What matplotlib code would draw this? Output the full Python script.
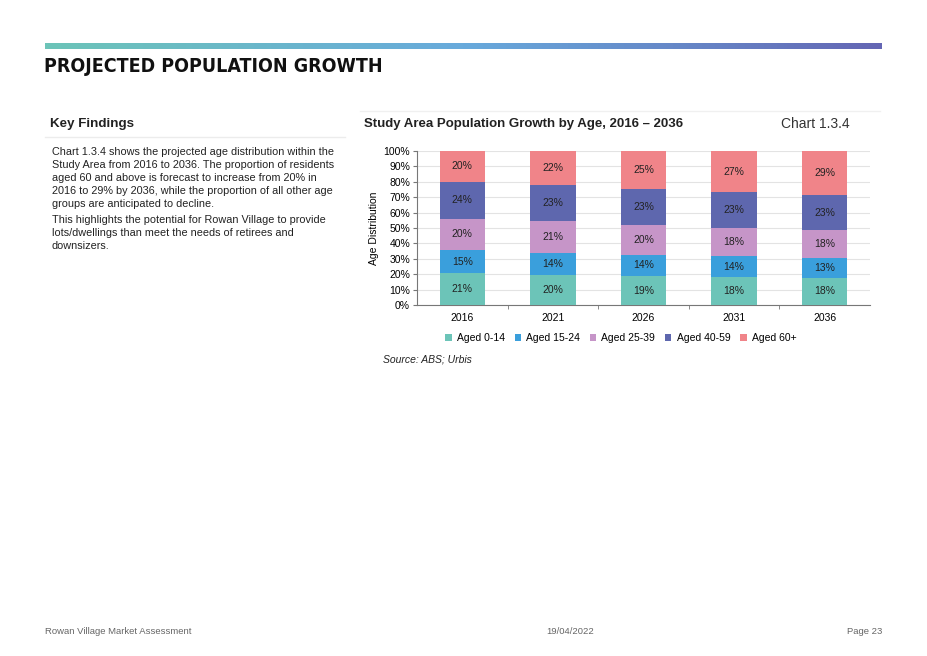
import matplotlib.pyplot as plt
import numpy as np
from matplotlib.colors import LinearSegmentedColormap

# data (percent of population)
years = ["2016", "2021", "2026", "2031", "2036"]
groups = ["Aged 0-14", "Aged 15-24", "Aged 25-39", "Aged 40-59", "Aged 60+"]
aged_0_14 = [20.6, 19.8, 18.8, 18.0, 17.6]
aged_15_24 = [15.2, 14.2, 13.8, 13.8, 13.1]
aged_25_39 = [20.1, 20.7, 19.6, 18.4, 17.8]
aged_40_59 = [24.2, 23.1, 23.1, 22.9, 22.9]
aged_60_plus = [19.9, 22.2, 24.7, 26.9, 28.6]
y_ticks = [0, 10, 20, 30, 40, 50, 60, 70, 80, 90, 100]

colors = ["#6cc4b8", "#3a9fdc", "#c695c8", "#5e67ae", "#f08489"]

plt.rcParams["font.family"] = ["Liberation Sans", "DejaVu Sans"]

W, H = 928, 656
fig = plt.figure(figsize=(W / 100, H / 100), dpi=100)
fig.patch.set_facecolor("white")


def ax_px(x0, y0, x1, y1):
    # axes from pixel box (top-left origin)
    return fig.add_axes([x0 / W, 1 - y1 / H, (x1 - x0) / W, (y1 - y0) / H])


def txt(x, y, s, **kw):
    return fig.text(x / W, 1 - y / H, s, **kw)


# header gradient bar
gax = ax_px(45, 43, 882, 49)
cmap = LinearSegmentedColormap.from_list("hdr", ["#6cc4b8", "#68aadc", "#6466b4"])
gax.imshow(np.linspace(0, 1, 256).reshape(1, -1), aspect="auto", cmap=cmap)
gax.axis("off")

txt(44, 66, "PROJECTED POPULATION GROWTH", fontsize=14, fontweight="bold",
    family="DejaVu Sans", fontstretch="condensed", va="center", color="#111111")

# key findings
txt(50, 124, "Key Findings", fontsize=9.6, fontweight="bold", va="center", color="#222222")
fig.add_artist(plt.Line2D([45 / W, 345 / W], [1 - 137 / H, 1 - 137 / H], color="#ececec", lw=1))
para1 = ("Chart 1.3.4 shows the projected age distribution within the\n"
         "Study Area from 2016 to 2036. The proportion of residents\n"
         "aged 60 and above is forecast to increase from 20% in\n"
         "2016 to 29% by 2036, while the proportion of all other age\n"
         "groups are anticipated to decline.")
para2 = ("This highlights the potential for Rowan Village to provide\n"
         "lots/dwellings than meet the needs of retirees and\n"
         "downsizers.")
txt(52, 147, para1, fontsize=7.8, va="top", linespacing=1.36, color="#222222")
txt(52, 215, para2, fontsize=7.8, va="top", linespacing=1.36, color="#222222")

# chart heading
fig.add_artist(plt.Line2D([360 / W, 880 / W], [1 - 111 / H, 1 - 111 / H], color="#f0f0f0", lw=1))
txt(364, 124, "Study Area Population Growth by Age, 2016 \u2013 2036", fontsize=9.5,
    fontweight="bold", va="center", color="#222222")
txt(850, 124, "Chart 1.3.4", fontsize=10, ha="right", va="center", color="#333333")

# stacked bar chart
ax = ax_px(417, 151, 870, 305)
series = [aged_0_14, aged_15_24, aged_25_39, aged_40_59, aged_60_plus]
x = np.arange(len(years))
bottom = np.zeros(len(years))
for name, vals, c in zip(groups, series, colors):
    vals = np.array(vals)
    bars = ax.bar(x, vals, 0.5, bottom=bottom, color=c, label=name, zorder=3)
    ax.bar_label(bars, labels=[f"{v:.0f}%" for v in vals], label_type="center",
                 fontsize=7.5, color="#222222")
    bottom += vals

ax.set_xlim(-0.5, len(years) - 0.5)
ax.set_ylim(0, 100)
ax.set_yticks(y_ticks)
ax.set_yticklabels([f"{t}%" for t in y_ticks], fontsize=7.5)
ax.set_xticks(x)
ax.set_xticklabels(years, fontsize=7.5)
ax.set_xticks(np.arange(0.5, len(years) - 1, 1), minor=True)
ax.tick_params(axis="x", which="major", length=0, pad=6)
ax.tick_params(axis="x", which="minor", length=3, color="#777777")
ax.tick_params(axis="y", length=3, color="#777777", pad=2)
ax.yaxis.grid(True, color="#e3e3e3", lw=0.8, zorder=0)
ax.set_axisbelow(True)
for s in ["top", "right"]:
    ax.spines[s].set_visible(False)
ax.spines["left"].set_color("#777777")
ax.spines["bottom"].set_color("#777777")
ax.set_ylabel("Age Distribution", fontsize=7.5, labelpad=3)

ax.legend(loc="center", bbox_to_anchor=(0.45, -0.215), ncol=5, frameon=False,
          fontsize=7.5, handlelength=0.6, handleheight=0.6, handletextpad=0.5,
          columnspacing=0.95)

txt(383, 360, "Source: ABS; Urbis", fontsize=7.5, style="italic", va="center", color="#222222")

# footer
txt(45, 631, "Rowan Village Market Assessment", fontsize=6.8, va="center", color="#666666")
txt(570, 631, "19/04/2022", fontsize=6.8, va="center", ha="center", color="#666666")
txt(882, 631, "Page 23", fontsize=6.8, va="center", ha="right", color="#666666")

fig.savefig("out.png", dpi=100)
